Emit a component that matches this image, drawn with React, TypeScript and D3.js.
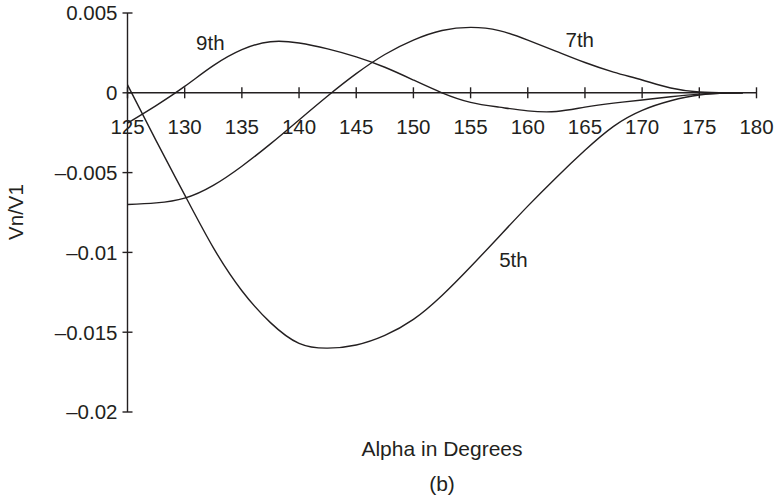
import React from "react";
import * as d3 from "d3";

const alpha = [125, 127.5, 130, 132.5, 135, 137.5, 140, 142.5, 145, 147.5, 150, 152.5, 155, 157.5, 160, 162.5, 165, 167.5, 170, 172.5, 175, 177.5, 178.8];
const fifth = [0.0005, -0.0030, -0.0064, -0.0097, -0.0124, -0.0144, -0.0157, -0.0160, -0.0158, -0.0152, -0.0142, -0.0127, -0.0109, -0.0090, -0.0071, -0.0053, -0.0036, -0.0021, -0.0011, -0.0005, -0.00014, -0.00002, 0];
const seventh = [-0.0070, -0.0069, -0.0066, -0.0058, -0.0046, -0.0032, -0.0017, -0.0002, 0.0012, 0.0024, 0.0033, 0.0039, 0.0041, 0.0039, 0.0033, 0.0026, 0.0019, 0.0013, 0.0008, 0.0003, 0.00005, 0.000005, 0];
const ninth = [-0.0019, -0.0008, 0.0004, 0.0017, 0.0027, 0.0032, 0.00312, 0.00275, 0.00225, 0.0016, 0.0008, 0.0000, -0.0006, -0.0009, -0.00113, -0.00117, -0.0009, -0.00065, -0.00045, -0.00025, -0.00008, -0.00001, 0];

const xTicks = [125, 130, 135, 140, 145, 150, 155, 160, 165, 170, 175, 180];
const yTicks = [0.005, 0, -0.005, -0.01, -0.015, -0.02];
const yTickLabels = ["0.005", "0", "\u20130.005", "\u20130.01", "\u20130.015", "\u20130.02"];

const seriesNames = ["5th", "7th", "9th"];
const seriesValues = [fifth, seventh, ninth];
const labelAt = [
  { a: 157.5, v: -0.01092 },
  { a: 163.3, v: 0.00287 },
  { a: 131.0, v: 0.00268 },
];

export default function App() {
  const W = 776, H = 503;
  const x = d3.scaleLinear().domain([125, 180]).range([127.5, 756.5]);
  const y = d3.scaleLinear().domain([0.005, -0.02]).range([13, 412]);
  const line = d3
    .line<number>()
    .x((_, i) => x(alpha[i]))
    .y((d) => y(d))
    .curve(d3.curveNatural);
  const font = "'Liberation Sans', Arial, Helvetica, sans-serif";
  const ink = "#231f20";
  return (
    <svg width={W} height={H} style={{ position: "absolute", left: 0, top: 0, background: "#fff" }} fontFamily={font}>
      {/* y axis */}
      <line x1={x(125)} x2={x(125)} y1={y(0.005)} y2={y(-0.02)} stroke={ink} strokeWidth={1.4} />
      {yTicks.map((t, i) => (
        <g key={"yt" + i}>
          <line x1={x(125) - 5} x2={x(125) + 5} y1={y(t)} y2={y(t)} stroke={ink} strokeWidth={1.4} />
          <text x={x(125) - 10} y={y(t)} dy="0.36em" textAnchor="end" fontSize={20.5} fill={ink}>
            {yTickLabels[i]}
          </text>
        </g>
      ))}
      {/* x axis */}
      <line x1={x(125)} x2={x(180)} y1={y(0)} y2={y(0)} stroke={ink} strokeWidth={1.4} />
      {xTicks.map((t) => (
        <line key={"xt" + t} x1={x(t)} x2={x(t)} y1={y(0) - 5.5} y2={y(0) + 5.5} stroke={ink} strokeWidth={1.4} />
      ))}
      {/* series */}
      {seriesValues.map((vals, i) => (
        <path key={"s" + i} d={line(vals) || ""} fill="none" stroke={ink} strokeWidth={1.4} />
      ))}
      {xTicks.map((t) => (
        <text key={"xl" + t} x={x(t)} y={y(0) + 41} textAnchor="middle" fontSize={20.5} fill={ink}>
          {t}
        </text>
      ))}
      {seriesNames.map((n, i) => (
        <text key={"n" + n} x={x(labelAt[i].a)} y={y(labelAt[i].v)} fontSize={20.5} fill={ink}>
          {n}
        </text>
      ))}
      <text transform={`translate(23, 212) rotate(-90)`} textAnchor="middle" fontSize={20.5} fill={ink}>
        Vn/V1
      </text>
      <text x={442} y={456} textAnchor="middle" fontSize={21} fill={ink}>
        Alpha in Degrees
      </text>
      <text x={442} y={491} textAnchor="middle" fontSize={21} fill={ink}>
        (b)
      </text>
    </svg>
  );
}
